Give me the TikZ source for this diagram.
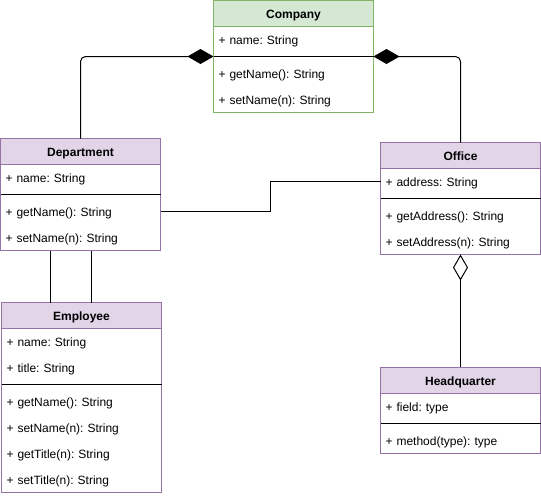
\documentclass[tikz,border=0pt]{standalone}
\usepackage{fontspec}
\setmainfont{Liberation Sans}
\usetikzlibrary{positioning,arrows.meta}

\definecolor{greenfill}{HTML}{D5E8D4}
\definecolor{greenline}{HTML}{82B366}
\definecolor{purplefill}{HTML}{E1D5E7}
\definecolor{purpleline}{HTML}{9673A6}

\tikzset{
  classhead/.style={draw, minimum width=160pt, minimum height=26pt, inner sep=0pt, outer sep=0pt, text height=10.6pt, text depth=0pt, font=\fontsize{12}{14}\selectfont\frenchspacing\bfseries},
  greenclass/.style={fill=greenfill, draw=greenline},
  purpleclass/.style={fill=purplefill, draw=purpleline},
  member/.style={text width=150pt, inner xsep=5pt, inner ysep=0pt, minimum height=26pt, align=left, outer sep=0pt, text height=10.6pt, text depth=0pt, font=\fontsize{12}{14}\selectfont\frenchspacing},
  compose/.style={-{Diamond[length=26pt,width=15pt]}, rounded corners=5pt},
  aggregate/.style={-{Diamond[fill=white,length=26pt,width=15pt]}}
}

\begin{document}
\begin{tikzpicture}[x=1pt, y=-1pt, line width=1pt]
\useasboundingbox (0,0) rectangle (541,496);
% Company
\node[classhead, greenclass, anchor=north west] (company) at (213.5,0.5) {Company};
\node[member, below=0pt of company] (companyF1) {+ name: String};
\node[member, below=8pt of companyF1] (companyM1) {+ getName(): String};
\node[member, below=0pt of companyM1] (companyM2) {+ setName(n): String};
\draw[greenline] (company.south west) rectangle (companyM2.south east);
\coordinate (companySepW) at ([yshift=-4pt]companyF1.south west);
\coordinate (companySepE) at ([yshift=-4pt]companyF1.south east);
\draw (companySepW) -- (companySepE);
% Department
\node[classhead, purpleclass, anchor=north west] (dept) at (0.5,138.5) {Department};
\node[member, below=0pt of dept] (deptF1) {+ name: String};
\node[member, below=8pt of deptF1] (deptM1) {+ getName(): String};
\node[member, below=0pt of deptM1] (deptM2) {+ setName(n): String};
\draw[purpleline] (dept.south west) rectangle (deptM2.south east);
\draw ([yshift=-4pt]deptF1.south west) -- ([yshift=-4pt]deptF1.south east);
% Office
\node[classhead, purpleclass, anchor=north west] (office) at (380.5,142.5) {Office};
\node[member, below=0pt of office] (officeF1) {+ address: String};
\node[member, below=8pt of officeF1] (officeM1) {+ getAddress(): String};
\node[member, below=0pt of officeM1] (officeM2) {+ setAddress(n): String};
\draw[purpleline] (office.south west) rectangle (officeM2.south east);
\draw ([yshift=-4pt]officeF1.south west) -- ([yshift=-4pt]officeF1.south east);
% Employee
\node[classhead, purpleclass, anchor=north west] (employee) at (1.5,302.5) {Employee};
\node[member, below=0pt of employee] (employeeF1) {+ name: String};
\node[member, below=0pt of employeeF1] (employeeF2) {+ title: String};
\node[member, below=8pt of employeeF2] (employeeM1) {+ getName(): String};
\node[member, below=0pt of employeeM1] (employeeM2) {+ setName(n): String};
\node[member, below=0pt of employeeM2] (employeeM3) {+ getTitle(n): String};
\node[member, below=0pt of employeeM3] (employeeM4) {+ setTitle(n): String};
\draw[purpleline] (employee.south west) rectangle (employeeM4.south east);
\draw ([yshift=-4pt]employeeF2.south west) -- ([yshift=-4pt]employeeF2.south east);
% Headquarter
\node[classhead, purpleclass, anchor=north west] (hq) at (380.5,367) {Headquarter};
\node[member, below=0pt of hq] (hqF1) {+ field: type};
\node[member, below=8pt of hqF1] (hqM1) {+ method(type): type};
\draw[purpleline] (hq.south west) rectangle (hqM1.south east);
\draw ([yshift=-4pt]hqF1.south west) -- ([yshift=-4pt]hqF1.south east);
% connectors
\draw[compose] (dept.north) |- (companySepW);
\draw[compose] (office.north) |- (companySepE);
\draw (deptM1.east) -- ++(110,0) |- (officeF1.west);
\draw[aggregate] (hq.north) -- (officeM2.south);
\coordinate (deptL) at ([xshift=-30.5pt]deptM2.south);
\coordinate (deptR) at ([xshift=11pt]deptM2.south);
\draw (deptL) -- (deptL |- employee.north);
\draw (deptR) -- (deptR |- employee.north);
\end{tikzpicture}
\end{document}
